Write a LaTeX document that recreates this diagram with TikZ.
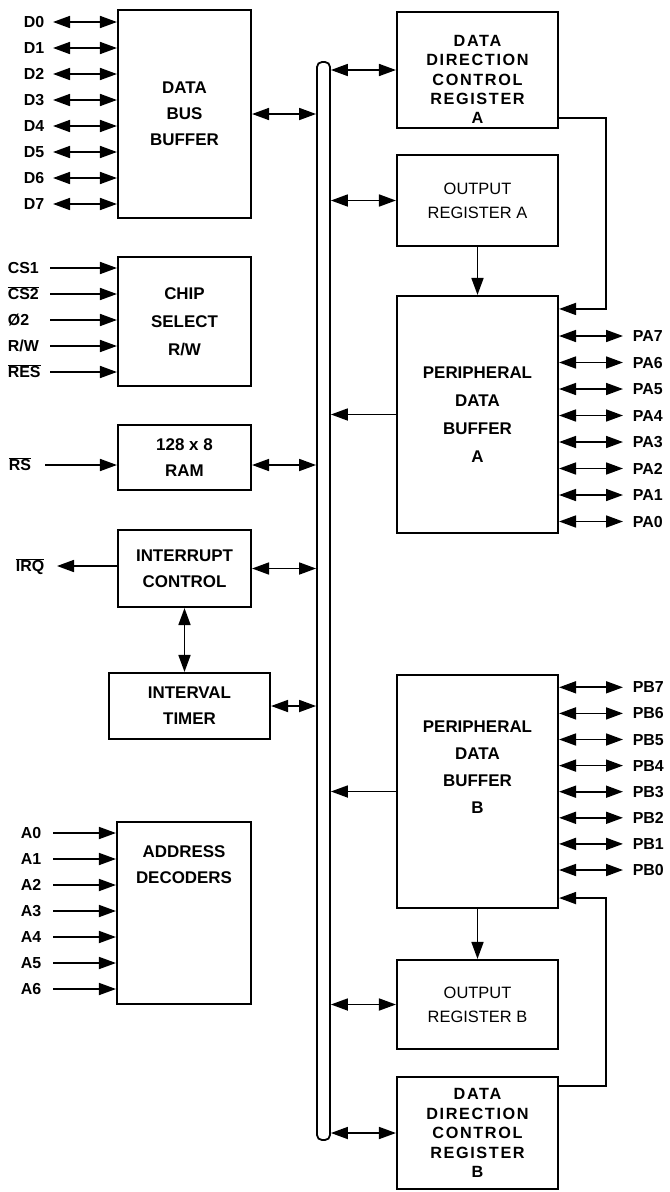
\documentclass[tikz,border=0pt]{standalone}
\usepackage{fontspec}
\setmainfont{Liberation Sans}
\newfontfamily\espace{Liberation Sans}[LetterSpace=10]
\usetikzlibrary{arrows.meta}

\begin{document}
\begin{tikzpicture}[x=1bp,y=-1bp,line width=1.7bp,
  >={Triangle[length=17bp,width=12bp]},
  texte/.style={align=center,inner sep=0pt,font=\fontsize{17}{26}\selectfont\bfseries},
  bloc/.style={texte,draw,line width=2.1bp},
  serre/.style={align=center,inner sep=0pt,font=\espace\fontsize{16.3}{19.5}\selectfont\bfseries},
  maigre/.style={font=\fontsize{16.5}{24}\selectfont\mdseries},
  broche/.style={anchor=west,inner sep=0pt,text height=11bp,text depth=0pt,
    font=\fontsize{16}{18}\selectfont\bfseries}]
  \useasboundingbox (0,0) rectangle (670,1192);

  % bus interne
  \node[draw,line width=1.8bp,rounded corners=5bp,minimum width=13bp,
    minimum height=1078bp,inner sep=0pt] (bus) at (323.5,601) {};

  % colonne gauche
  \node[bloc,minimum width=133bp,minimum height=208bp] (dbb) at (184.5,114) {DATA\\BUS\\BUFFER};
  \node[bloc,minimum width=133bp,minimum height=129bp,
    font=\fontsize{17}{28}\selectfont\bfseries] (cs) at (184.5,321.5) {CHIP\\SELECT\\R/W};
  \node[bloc,minimum width=133bp,minimum height=65bp] (ram) at (184.5,457.5) {128 x 8\\RAM};
  \node[bloc,minimum width=133bp,minimum height=77bp] (irq) at (184.5,568.5) {INTERRUPT\\CONTROL};
  \node[bloc,minimum width=161bp,minimum height=66bp] (timer) at (189.5,706) {INTERVAL\\TIMER};
  \node[bloc,minimum width=134bp,minimum height=182bp] (adec) at (184,913) {};
  \node[texte] (adectxt) at ([yshift=48bp]adec.center) {ADDRESS\\DECODERS};

  % colonne droite
  \node[bloc,minimum width=161bp,minimum height=116bp] (ddra) at (477.5,70) {};
  \node[serre] (ddratxt) at ([yshift=-9.5bp]ddra.center) {DATA\\DIRECTION\\CONTROL\\REGISTER\\A};
  \node[bloc,maigre,minimum width=161bp,minimum height=91bp] (ora) at (477.5,200.5) {OUTPUT\\REGISTER A};
  \node[bloc,minimum width=161bp,minimum height=237bp,
    font=\fontsize{17}{28}\selectfont\bfseries] (pdba) at (477.5,414.5) {PERIPHERAL\\DATA\\BUFFER\\A};
  \node[bloc,minimum width=161bp,minimum height=233bp] (pdbb) at (477.5,791.5) {};
  \node[texte,font=\fontsize{17}{27}\selectfont\bfseries] (pdbbtxt) at ([yshift=24bp]pdbb.center)
    {PERIPHERAL\\DATA\\BUFFER\\B};
  \node[bloc,maigre,minimum width=161bp,minimum height=89bp] (orb) at (477.5,1004.5) {OUTPUT\\REGISTER B};
  \node[bloc,serre,draw,minimum width=161bp,minimum height=112bp] (ddrb) at (477.5,1133)
    {DATA\\DIRECTION\\CONTROL\\REGISTER\\B};

  % liaisons avec le bus
  \foreach \b/\dy in {dbb/0,ram/-7.5,irq/0,timer/0}
    \draw[<->] ([yshift=\dy bp]\b.east) -- ([yshift=\dy bp]\b.east -| bus.west);
  \foreach \b in {ddra,ora,orb,ddrb}
    \draw[<->] (\b.west -| bus.east) -- (\b.west);
  \foreach \b in {pdba,pdbb}
    \draw[->] (\b.west) -- (\b.west -| bus.east);

  % liaisons internes
  \draw[<->] (irq.south) -- (irq.south |- timer.north);
  \draw[->] (ora.south) -- (ora.south |- pdba.north);
  \draw[->] (pdbb.south) -- (pdbb.south |- orb.north);
  \draw[->] ([yshift=11bp]ddra.south east) -- ++(47,0) |- ([yshift=-14bp]pdba.north east);
  \draw[->] ([yshift=-10bp]ddrb.north east) -- ++(47,0) |- ([yshift=11bp]pdbb.south east);

  % broches D0-D7
  \foreach \i in {0,...,7} {
    \node[broche] (d\i) at (23,22+26*\i) {D\i};
    \coordinate (dp\i) at (53,22+26*\i);
    \draw[<->] (dp\i) -- (dp\i -| dbb.west);
  }
  % selection
  \foreach \t [count=\i from 0] in {CS1,{$\overline{\hbox{CS2}}$},Ø2,R/W,{$\overline{\hbox{RES}}$}} {
    \node[broche] (csl\i) at (7,268+26*\i) {\t};
    \coordinate (csp\i) at (50,268+26*\i);
    \draw[->] (csp\i) -- (csp\i -| cs.west);
  }
  \node[broche] (rsl) at (8,465) {$\overline{\hbox{RS}}$};
  \coordinate (rsp) at (45,465);
  \draw[->] (rsp) -- (rsp -| ram.west);
  \node[broche] (irql) at (15,566) {$\overline{\hbox{IRQ}}$};
  \coordinate (irqp) at (57,566);
  \draw[->] (irqp -| irq.west) -- (irqp);
  % adresses A0-A6
  \foreach \i in {0,...,6} {
    \node[broche] (a\i) at (20,833+26*\i) {A\i};
    \coordinate (ap\i) at (53,833+26*\i);
    \draw[->] (ap\i) -- (ap\i -| adec.west);
  }
  % ports A et B
  \foreach \i in {0,...,7} {
    \node[broche] (pa\i) at (632,521.5-26.5*\i) {PA\i};
    \coordinate (pap\i) at (623,521.5-26.5*\i);
    \draw[<->] (pap\i -| pdba.east) -- (pap\i);
    \node[broche] (pb\i) at (632,870-26.1*\i) {PB\i};
    \coordinate (pbp\i) at (623,870-26.1*\i);
    \draw[<->] (pbp\i -| pdbb.east) -- (pbp\i);
  }
\end{tikzpicture}
\end{document}
